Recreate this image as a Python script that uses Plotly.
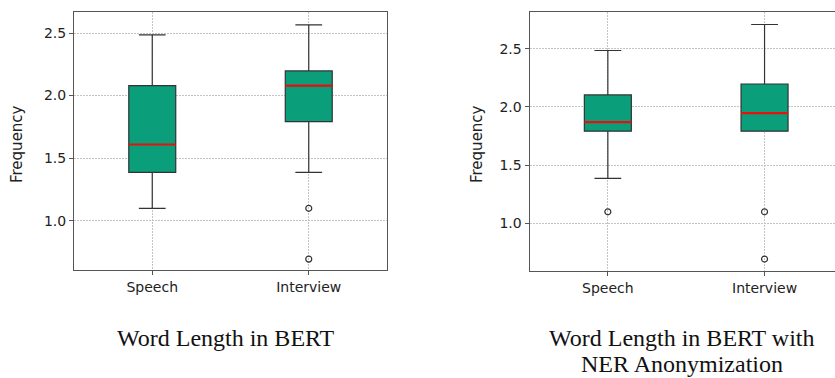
import plotly.graph_objects as go

# Box statistics (log word length) per corpus
categories = ["Speech", "Interview"]

bert_lower = [1.099, 1.386]
bert_q1 = [1.386, 1.792]
bert_median = [1.609, 2.079]
bert_q3 = [2.079, 2.197]
bert_upper = [2.485, 2.565]
bert_outliers = [[], [1.099, 0.693]]

ner_lower = [1.386, 1.792]
ner_q1 = [1.792, 1.792]
ner_median = [1.869, 1.946]
ner_q3 = [2.103, 2.197]
ner_upper = [2.485, 2.708]
ner_outliers = [[1.099], [1.099, 0.693]]

caption_left = ["Word Length in BERT"]
caption_right = ["Word Length in BERT with", "NER Anonymization"]

W, H = 835, 378
BOX_FILL = "#0b9e7b"
EDGE = "#333333"
BOX_W = 0.3

fig = go.Figure()

panels = [
    (bert_lower, bert_q1, bert_median, bert_q3, bert_upper, bert_outliers, "x", "y"),
    (ner_lower, ner_q1, ner_median, ner_q3, ner_upper, ner_outliers, "x2", "y2"),
]

for lo, q1, med, q3, hi, outs, xa, ya in panels:
    pos = list(range(1, len(categories) + 1))
    fig.add_trace(go.Box(
        x=pos, q1=q1, median=med, q3=q3, lowerfence=lo, upperfence=hi,
        width=BOX_W, whiskerwidth=0.57, boxpoints=False,
        fillcolor=BOX_FILL, line=dict(color=EDGE, width=1.2),
        xaxis=xa, yaxis=ya, showlegend=False, hoverinfo="skip",
    ))
    # red median bars
    for p, m in zip(pos, med):
        fig.add_trace(go.Scatter(
            x=[p - BOX_W / 2, p + BOX_W / 2], y=[m, m], mode="lines",
            line=dict(color="#e8100e", width=2.2),
            xaxis=xa, yaxis=ya, showlegend=False, hoverinfo="skip",
        ))
    # outlier points
    ox, oy = [], []
    for p, vals in zip(pos, outs):
        ox += [p] * len(vals)
        oy += vals
    fig.add_trace(go.Scatter(
        x=ox, y=oy, mode="markers",
        marker=dict(symbol="circle-open", size=6, color=EDGE, line=dict(width=1.2)),
        xaxis=xa, yaxis=ya, showlegend=False, hoverinfo="skip",
    ))

tick_font = dict(family="DejaVu Sans", size=14, color="#222")
grid = dict(showgrid=True, gridcolor="#c4c4c4", griddash="2px,1px", gridwidth=1)
common_x = dict(tickmode="array", tickvals=[1, 2], ticktext=categories,
                ticks="outside", ticklen=4, tickcolor="#555", tickfont=tick_font,
                showline=True, linecolor="#555", linewidth=1, zeroline=False, **grid)
common_y = dict(tickmode="array", tickvals=[1.0, 1.5, 2.0, 2.5],
                ticktext=["1.0", "1.5", "2.0", "2.5"],
                ticks="outside", ticklen=4, tickcolor="#555", tickfont=tick_font,
                showline=True, linecolor="#555", linewidth=1, zeroline=False, **grid)

left_dom = [74 / W, 387 / W]
right_dom = [529.5 / W, 1.0]
right_span = (W - 529.5) / 156.7

fig.update_layout(
    width=W, height=H, margin=dict(l=0, r=0, t=0, b=0),
    paper_bgcolor="white", plot_bgcolor="white",
    xaxis=dict(domain=left_dom, range=[0.5, 2.5], anchor="y", mirror=True, **common_x),
    yaxis=dict(domain=[1 - 270 / H, 1 - 12 / H], range=[0.606, 2.668], anchor="x",
               mirror=True, **common_y),
    xaxis2=dict(domain=right_dom, range=[0.5, 0.5 + right_span], anchor="y2",
                mirror=True, **common_x),
    yaxis2=dict(domain=[1 - 270.7 / H, 1 - 12.3 / H], range=[0.593, 2.813], anchor="x2",
                mirror=False, **common_y),
)

# y-axis labels
for xpx in (17, 477):
    fig.add_annotation(
        text="Frequency", x=xpx / W, y=1 - 144 / H, xref="paper", yref="paper",
        textangle=-90, showarrow=False, xanchor="center", yanchor="middle",
        font=dict(family="DejaVu Sans", size=15, color="#222"),
    )

# panel captions, one annotation per line
cap_font = dict(family="Liberation Serif", size=24, color="#111")
for i, line in enumerate(caption_left):
    fig.add_annotation(
        text=line, x=226 / W, y=1 - (337.5 + 26.5 * i) / H, xref="paper", yref="paper",
        showarrow=False, xanchor="center", yanchor="middle", font=cap_font,
    )
for i, line in enumerate(caption_right):
    fig.add_annotation(
        text=line, x=682 / W, y=1 - (337.5 + 26.5 * i) / H, xref="paper", yref="paper",
        showarrow=False, xanchor="center", yanchor="middle", font=cap_font,
    )

fig.write_html("out.html")
